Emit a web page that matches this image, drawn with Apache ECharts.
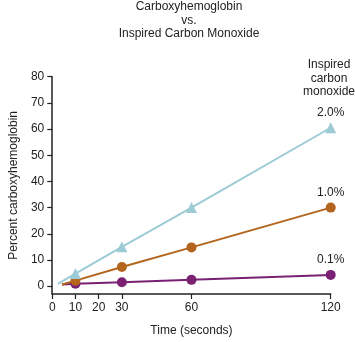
<!DOCTYPE html>
<html>
<head>
<meta charset="utf-8">
<script src="https://cdn.jsdelivr.net/npm/echarts@6/dist/echarts.min.js"></script>
<style>html,body{margin:0;padding:0;background:#fff}#c{width:355px;height:342px}</style>
</head>
<body>
<div id="c"></div>
<script>
var seriesNames = ['2.0%', '1.0%', '0.1%'];
var times2 = [2.4, 10, 30, 60, 120];
var co20 = [0.9, 4.8, 15, 30, 60.5];
var times1 = [4.2, 10, 30, 60, 120];
var co10 = [0.6, 2.1, 7.3, 14.8, 30];
var times01 = [4.2, 10, 30, 60, 120];
var co01 = [0.6, 0.9, 1.5, 2.4, 4.3];
var xTicks = [0, 10, 20, 30, 60, 120];
var yTicks = [0, 10, 20, 30, 40, 50, 60, 70, 80];
var colors = ['#9ccbd5', '#b3651e', '#7a2174'];
var symbols = ['triangle', 'circle', 'circle'];

function pts(xs, ys) { return xs.map(function (x, i) { return [x, ys[i]]; }); }
var datasets = [pts(times2, co20), pts(times1, co10), pts(times01, co01)];

var font = 'Liberation Sans, Arial, Helvetica, sans-serif';
var chart = echarts.init(document.getElementById('c'));
chart.setOption({
  animation: false,
  textStyle: { fontFamily: font },
  graphic: [{
    type: 'text', x: 189, y: 0,
    style: {
      text: 'Carboxyhemoglobin\nvs.\nInspired Carbon Monoxide',
      align: 'center', verticalAlign: 'top',
      font: '12px ' + font, fill: '#222', lineHeight: 13.5
    }
  }, {
    type: 'text', x: 329, y: 58,
    style: {
      text: 'Inspired\ncarbon\nmonoxide',
      align: 'center', verticalAlign: 'top',
      font: '12px ' + font, fill: '#222', lineHeight: 13.5
    }
  }],
  grid: { left: 48.3, right: 24.3, top: 76.7, bottom: 46 },
  xAxis: {
    type: 'value', min: 0, max: 120,
    name: 'Time (seconds)', nameLocation: 'middle', nameGap: 31,
    nameTextStyle: { fontSize: 12, color: '#222' },
    axisLine: { onZero: false, lineStyle: { color: '#222', width: 1.5 } },
    axisTick: { customValues: xTicks, length: 5, lineStyle: { color: '#222', width: 1.2 } },
    axisLabel: { customValues: xTicks, fontSize: 12, color: '#222', margin: 8 },
    splitLine: { show: false }
  },
  yAxis: {
    type: 'value', min: -3, max: 80,
    name: 'Percent carboxyhemoglobin', nameLocation: 'middle', nameGap: 30,
    nameTextStyle: { fontSize: 12, color: '#222' },
    axisLine: { show: true, lineStyle: { color: '#222', width: 1.5 } },
    axisTick: { show: true, customValues: yTicks, length: 5, lineStyle: { color: '#222', width: 1.2 } },
    axisLabel: { customValues: yTicks, fontSize: 12, color: '#222', margin: 8 },
    splitLine: { show: false }
  },
  series: datasets.map(function (d, i) {
    return {
      type: 'line', name: seriesNames[i],
      data: d.map(function (p, j) {
        var o = { value: p };
        if (j === 0) o.symbol = 'none';
        if (j === d.length - 1) o.label = { show: true, position: 'top', distance: 4, formatter: seriesNames[i], fontSize: 12, color: '#222' };
        return o;
      }),
      symbol: symbols[i], symbolSize: i === 0 ? 11 : 10,
      showSymbol: true,
      lineStyle: { color: colors[i], width: 2 },
      itemStyle: { color: colors[i] },
      z: 3 - i
    };
  })
});
</script>
</body>
</html>
